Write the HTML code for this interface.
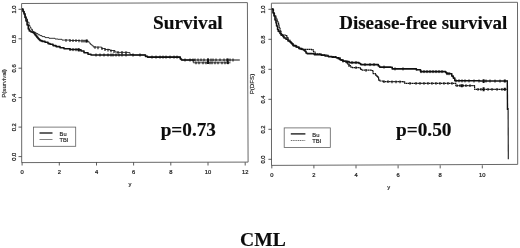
<!DOCTYPE html>
<html>
<head>
<meta charset="utf-8">
<style>
html,body{margin:0;padding:0;background:#fff;}
body{width:520px;height:248px;overflow:hidden;position:relative;font-family:"Liberation Sans",sans-serif;}
svg{position:absolute;left:0;top:0;will-change:transform;filter:blur(0.4px);}
.ax{font-family:"Liberation Sans",sans-serif;font-size:5.8px;fill:#1a1a1a;stroke:#1a1a1a;stroke-width:0.22;}
.lab{font-family:"Liberation Sans",sans-serif;font-size:5.8px;fill:#222;stroke:#222;stroke-width:0.15;}
.big{font-family:"Liberation Serif",serif;font-weight:bold;fill:#0c0c0c;stroke:#0c0c0c;stroke-width:0.15;}
</style>
</head>
<body>
<svg width="520" height="248" viewBox="0 0 520 248">
<rect x="0" y="0" width="520" height="248" fill="#fff"/>

<!-- LEFT PLOT -->
<g id="left">
<path d="M21.6,3.5 L247.4,2.6 L248.1,162.1 L21.7,162.6 Z" fill="none" stroke="#606060" stroke-width="0.95"/>
<g stroke="#333" stroke-width="0.8"><line x1="18.5" y1="9.3" x2="21.6" y2="9.3"/><line x1="18.5" y1="38.8" x2="21.6" y2="38.8"/><line x1="18.5" y1="68.2" x2="21.6" y2="68.2"/><line x1="18.5" y1="97.6" x2="21.6" y2="97.6"/><line x1="18.5" y1="127.1" x2="21.6" y2="127.1"/><line x1="18.5" y1="156.6" x2="21.6" y2="156.6"/><line x1="22.1" y1="162.4" x2="22.1" y2="165.5"/><line x1="59.3" y1="162.4" x2="59.3" y2="165.5"/><line x1="96.5" y1="162.4" x2="96.5" y2="165.5"/><line x1="133.6" y1="162.4" x2="133.6" y2="165.5"/><line x1="170.8" y1="162.4" x2="170.8" y2="165.5"/><line x1="208.0" y1="162.4" x2="208.0" y2="165.5"/><line x1="245.2" y1="162.4" x2="245.2" y2="165.5"/></g>
<g class="ax" text-anchor="middle"><text transform="translate(16.3,9.5) rotate(-90)">1.0</text><text transform="translate(16.3,39.0) rotate(-90)">0.8</text><text transform="translate(16.3,68.4) rotate(-90)">0.6</text><text transform="translate(16.3,97.8) rotate(-90)">0.4</text><text transform="translate(16.3,127.3) rotate(-90)">0.2</text><text transform="translate(16.3,156.8) rotate(-90)">0.0</text><text x="22.1" y="173.9">0</text><text x="59.3" y="173.9">2</text><text x="96.5" y="173.9">4</text><text x="133.6" y="173.9">6</text><text x="170.8" y="173.9">8</text><text x="208.0" y="173.9">10</text><text x="245.2" y="173.9">12</text></g>
<text class="lab" text-anchor="middle" transform="translate(5.6,83.4) rotate(-90)" style="font-size:6.05px">P(survival)</text>
<text class="lab" text-anchor="middle" x="130" y="186">y</text>
<path d="M22.0,9.0 L23.0,9.0 L23.0,11.0 L24.0,11.0 L24.0,13.0 L25.0,13.0 L25.0,16.0 L26.0,16.0 L26.0,19.0 L27.5,19.0 L27.5,22.2 L29.0,22.2 L29.0,25.5 L30.0,25.5 L30.0,27.4 L31.0,27.4 L31.0,29.3 L32.5,29.3 L32.5,31.4 L34.0,31.4 L34.0,32.4 L36.0,32.4 L36.0,33.6 L38.0,33.6 L38.0,34.8 L40.0,34.8 L40.0,35.6 L42.0,35.6 L42.0,36.6 L45.0,36.6 L45.0,37.6 L49.0,37.6 L49.0,38.3 L55.0,38.3 L55.0,39.0 L58.0,39.0 L58.0,39.3 L62.0,39.3 L62.0,40.1 L70.0,40.1 L70.0,40.5 L80.0,40.5 L80.0,40.9 L87.2,40.9 L87.2,41.3 L89.0,41.3 L89.0,43.0 L90.4,43.0 L90.4,44.4 L91.9,44.4 L91.9,45.7 L93.3,45.7 L93.3,47.1 L101.7,47.1 L101.7,48.5 L105.0,48.5 L105.0,49.5 L110.0,49.5 L110.0,50.5 L115.0,50.5 L115.0,52.0 L117.0,52.0 L117.0,52.4 L128.0,52.4 L128.0,52.6 L130.0,52.6 L130.0,54.5 L133.0,54.5 L133.0,55.0 L144.0,55.0 L145.5,55.0 L145.5,56.4 L147.5,56.4 L147.5,57.1 L179.2,57.1 L180.3,57.1 L180.3,59.0 L181.5,59.0 L181.5,60.0 L193.3,60.0 L193.3,62.8 L230.5,62.8" fill="none" stroke="#222" stroke-width="0.9" stroke-linejoin="round"/>
<path d="M66.0,38.9 v2.8 M70.0,39.1 v2.8 M73.0,39.2 v2.8 M76.0,39.3 v2.8 M79.0,39.5 v2.8 M82.0,39.6 v2.8 M84.0,39.7 v2.8 M86.0,39.8 v2.8 M95.0,46.0 v2.8 M98.0,46.5 v2.8 M102.0,47.2 v2.8 M105.0,48.1 v2.8 M108.0,48.7 v2.8 M111.0,49.4 v2.8 M114.0,50.3 v2.8 M118.0,51.0 v2.8 M122.0,51.1 v2.8 M126.0,51.2 v2.8 M133.0,53.6 v2.8 M140.0,53.6 v2.8 M196.0,61.4 v2.8 M199.0,61.4 v2.8 M203.0,61.4 v2.8 M206.0,61.4 v2.8 M210.0,61.4 v2.8 M212.0,61.4 v2.8 M215.0,61.4 v2.8 M218.0,61.4 v2.8 M222.0,61.4 v2.8 M225.0,61.4 v2.8 M228.0,61.4 v2.8" fill="none" stroke="#1a1a1a" stroke-width="1.15"/>
<path d="M22.0,9.0 L23.0,9.0 L23.0,11.5 L24.0,11.5 L24.0,14.0 L25.0,14.0 L25.0,17.5 L26.0,17.5 L26.0,21.0 L27.1,21.0 L27.1,25.0 L28.3,25.0 L28.3,29.0 L29.3,29.0 L29.3,31.0 L31.0,31.0 L31.0,32.0 L32.5,32.0 L32.5,32.4 L34.0,32.4 L34.0,33.6 L35.0,33.6 L35.0,34.9 L36.0,34.9 L36.0,36.1 L37.0,36.1 L37.0,37.4 L38.0,37.4 L38.0,38.6 L39.0,38.6 L39.0,39.6 L40.0,39.6 L40.0,40.6 L42.0,40.6 L42.0,41.4 L45.0,41.4 L45.0,42.3 L48.0,42.3 L48.0,43.6 L50.0,43.6 L50.0,44.3 L53.0,44.3 L53.0,45.6 L56.0,45.6 L56.0,46.6 L60.0,46.6 L60.0,47.8 L64.0,47.8 L64.0,48.7 L70.0,48.7 L70.0,49.5 L78.0,49.5 L78.0,49.7 L81.0,49.7 L81.0,51.0 L84.0,51.0 L84.0,52.7 L88.0,52.7 L88.0,54.2 L91.0,54.2 L91.0,55.0 L144.0,55.0 L145.5,55.0 L145.5,56.4 L147.5,56.4 L147.5,57.1 L179.2,57.1 L180.3,57.1 L180.3,59.0 L181.5,59.0 L181.5,60.0 L195.0,60.0" fill="none" stroke="#111" stroke-width="1.6" stroke-linejoin="round"/>
<path d="M195.0,60.0 L239.8,60.0" fill="none" stroke="#111" stroke-width="1.05"/>
<path d="M70.0,48.0 v3.0 M73.0,48.1 v3.0 M76.0,48.2 v3.0 M79.0,48.6 v3.0 M96.0,53.5 v3.0 M100.0,53.5 v3.0 M104.0,53.5 v3.0 M108.0,53.5 v3.0 M111.0,53.5 v3.0 M113.0,53.5 v3.0 M116.0,53.5 v3.0 M119.0,53.5 v3.0 M122.0,53.5 v3.0 M126.0,53.5 v3.0 M152.0,55.6 v3.0 M156.0,55.6 v3.0 M160.0,55.6 v3.0 M163.0,55.6 v3.0 M166.0,55.6 v3.0 M170.0,55.6 v3.0 M174.0,55.6 v3.0 M177.0,55.6 v3.0 M185.0,58.5 v3.0 M190.0,58.5 v3.0 M193.0,58.5 v3.0 M195.0,58.5 v3.0 M198.0,58.5 v3.0 M201.0,58.5 v3.0 M204.0,58.5 v3.0 M208.0,58.5 v3.0 M211.0,58.5 v3.0 M213.0,58.5 v3.0 M216.0,58.5 v3.0 M220.0,58.5 v3.0 M224.0,58.5 v3.0 M227.0,58.5 v3.0 M230.0,58.5 v3.0 M233.0,58.5 v3.0" fill="none" stroke="#111" stroke-width="1.0"/>
<path d="M208,58.6 V64 M227.7,58.6 V64 M86.8,39.6 V42.6 M78.6,48.2 V51.2" fill="none" stroke="#111" stroke-width="2"/>
<rect x="33.4" y="127.1" width="42.3" height="19.2" fill="#fff" stroke="#606060" stroke-width="0.8"/>
<line x1="39.5" y1="133" x2="52.5" y2="133" stroke="#111" stroke-width="1.3"/>
<line x1="39.5" y1="139.5" x2="52.5" y2="139.5" stroke="#333" stroke-width="0.6"/>
<text class="lab" x="59.6" y="135.5" style="font-size:5.7px">Bu</text>
<text class="lab" x="59.6" y="142.1" style="font-size:5.7px">TBI</text>
<text class="big" x="153" y="29" style="font-size:19.3px">Survival</text>
<text class="big" x="160.7" y="136" style="font-size:19.2px">p=0.73</text>
</g>

<!-- RIGHT PLOT -->
<g id="right">
<path d="M271.4,3.2 L517.5,2.3 L517.7,164.4 L271.5,165.4 Z" fill="none" stroke="#606060" stroke-width="0.95"/>
<g stroke="#333" stroke-width="0.8"><line x1="268.4" y1="9.3" x2="271.5" y2="9.3"/><line x1="268.4" y1="39.3" x2="271.5" y2="39.3"/><line x1="268.4" y1="69.3" x2="271.5" y2="69.3"/><line x1="268.4" y1="99.3" x2="271.5" y2="99.3"/><line x1="268.4" y1="129.3" x2="271.5" y2="129.3"/><line x1="268.4" y1="159.3" x2="271.5" y2="159.3"/><line x1="271.8" y1="165.3" x2="271.8" y2="168.4"/><line x1="313.9" y1="165.3" x2="313.9" y2="168.4"/><line x1="356.0" y1="165.3" x2="356.0" y2="168.4"/><line x1="398.1" y1="165.3" x2="398.1" y2="168.4"/><line x1="440.2" y1="165.3" x2="440.2" y2="168.4"/><line x1="482.3" y1="165.3" x2="482.3" y2="168.4"/></g>
<g class="ax" text-anchor="middle"><text transform="translate(265.1,9.5) rotate(-90)">1.0</text><text transform="translate(265.1,39.5) rotate(-90)">0.8</text><text transform="translate(265.1,69.5) rotate(-90)">0.6</text><text transform="translate(265.1,99.5) rotate(-90)">0.4</text><text transform="translate(265.1,129.5) rotate(-90)">0.2</text><text transform="translate(265.1,159.5) rotate(-90)">0.0</text><text x="271.8" y="176.8">0</text><text x="313.9" y="176.8">2</text><text x="356.0" y="176.8">4</text><text x="398.1" y="176.8">6</text><text x="440.2" y="176.8">8</text><text x="482.3" y="176.8">10</text></g>
<text class="lab" text-anchor="middle" transform="translate(254,84) rotate(-90)" style="font-size:6.2px">P(DFS)</text>
<text class="lab" text-anchor="middle" x="388.8" y="188.9">y</text>
<path d="M271.8,9.0 L273.5,9.0 L273.5,13.0 L274.5,13.0 L274.5,16.0 L276.0,16.0 L276.0,19.0 L277.2,19.0 L277.2,22.0 L278.6,22.0 L278.6,25.0 L279.2,25.0 L279.2,28.0 L280.0,28.0 L280.0,31.0 L281.0,31.0 L281.0,33.5 L282.0,33.5 L282.0,35.6 L284.0,35.0 L286.0,35.0 L286.0,35.6 L287.0,35.6 L287.0,37.5 L288.0,37.5 L288.0,40.0 L290.0,40.0 L290.0,41.5 L291.0,41.5 L291.0,42.8 L292.0,42.8 L292.0,44.0 L293.0,44.0 L293.0,45.0 L294.0,45.0 L294.0,46.0 L297.0,46.0 L297.0,47.5 L299.0,47.5 L299.0,48.4 L301.0,48.4 L301.0,49.4 L311.7,49.4 L311.7,49.8 L313.5,49.8 L313.5,52.0 L315.2,52.0 L315.2,53.8 L321.0,53.8 L321.0,55.0 L328.0,55.0 L328.0,56.5 L336.0,56.5 L336.0,57.6 L340.0,57.6 L340.0,59.5 L341.0,59.5 L341.0,60.1 L343.0,60.1 L343.0,61.5 L346.0,61.5 L346.0,62.6 L347.5,62.6 L347.5,64.0 L349.1,64.0 L349.1,65.6 L350.5,65.6 L350.5,67.0 L352.1,67.0 L352.1,67.6 L359.2,67.6 L359.2,67.8 L360.5,67.8 L360.5,69.3 L362.2,69.3 L362.2,70.2 L371.3,70.2 L371.3,70.5 L373.0,70.5 L373.0,73.6 L375.5,73.6 L375.5,75.1 L376.6,75.1 L376.6,76.1 L377.6,76.1 L377.6,77.1 L378.6,77.1 L378.6,80.1 L380.0,80.1 L380.0,81.0 L383.1,81.0 L383.1,81.7 L402.8,81.7 L402.8,81.9 L404.8,81.9 L404.8,83.4 L454.3,83.4 L455.8,83.4 L455.8,85.7 L474.0,85.7 L474.6,85.7 L474.6,89.3 L507.0,89.3" fill="none" stroke="#111" stroke-width="1.2" stroke-dasharray="1.7,0.35" stroke-linejoin="round"/>
<path d="M349.0,64.1 v2.8 M356.0,66.3 v2.8 M366.0,68.9 v2.8 M384.0,80.3 v2.8 M388.0,80.3 v2.8 M392.0,80.4 v2.8 M396.0,80.4 v2.8 M400.0,80.5 v2.8 M410.0,82.0 v2.8 M416.0,82.0 v2.8 M420.0,82.0 v2.8 M424.0,82.0 v2.8 M428.0,82.0 v2.8 M432.0,82.0 v2.8 M436.0,82.0 v2.8 M440.0,82.0 v2.8 M444.0,82.0 v2.8 M448.0,82.0 v2.8 M452.0,82.0 v2.8 M457.0,84.3 v2.8 M460.0,84.3 v2.8 M463.0,84.3 v2.8 M466.0,84.3 v2.8 M470.0,84.3 v2.8 M478.0,87.9 v2.8 M481.0,87.9 v2.8 M488.0,87.9 v2.8 M492.0,87.9 v2.8 M497.0,87.9 v2.8 M502.0,87.9 v2.8" fill="none" stroke="#1a1a1a" stroke-width="1.1"/>
<path d="M271.8,9.0 L273.0,9.0 L273.0,13.0 L274.0,13.0 L274.0,16.0 L275.0,16.0 L275.0,20.0 L276.0,20.0 L276.0,23.0 L276.6,23.0 L276.6,26.0 L277.6,26.0 L277.6,29.5 L278.3,29.5 L278.3,31.5 L280.0,31.5 L280.0,33.5 L281.0,33.5 L281.0,35.1 L283.0,35.1 L283.0,36.6 L284.0,36.6 L284.0,38.0 L286.0,38.0 L286.0,39.2 L288.0,39.2 L288.0,41.0 L289.5,41.0 L289.5,41.7 L290.6,41.7 L290.6,42.7 L291.7,42.7 L291.7,43.7 L293.0,43.7 L293.0,45.6 L296.0,45.6 L296.0,47.0 L299.0,47.0 L299.0,48.6 L302.0,48.6 L302.0,49.5 L304.0,49.5 L304.0,50.5 L305.0,50.5 L305.0,51.3 L306.0,51.3 L306.0,53.0 L307.0,53.0 L307.0,53.6 L312.2,53.6 L312.2,53.8 L314.2,53.8 L314.2,54.6 L321.3,54.6 L321.3,55.1 L325.0,55.1 L325.0,56.0 L328.3,56.0 L328.3,56.6 L332.0,56.6 L332.0,57.2 L336.4,57.2 L336.4,57.7 L338.0,57.7 L338.0,58.6 L340.0,58.6 L340.0,59.7 L341.0,59.7 L341.0,60.1 L343.0,60.1 L343.0,61.0 L346.0,61.0 L346.0,61.6 L349.1,61.6 L349.1,62.6 L357.7,62.6 L359.0,62.6 L359.0,63.5 L360.7,63.5 L360.7,64.6 L377.0,64.6 L378.3,64.6 L378.3,66.0 L379.6,66.0 L379.6,67.1 L390.7,67.1 L390.7,67.2 L392.2,67.2 L392.2,68.9 L414.4,68.9 L416.4,68.9 L416.4,69.9 L418.0,69.7 L420.5,69.7 L420.5,71.6 L444.7,71.6 L445.7,71.6 L445.7,72.6 L446.7,72.6 L446.7,73.6 L450.3,73.6 L450.3,73.8 L451.8,73.8 L451.8,76.1 L453.3,76.1 L453.3,78.1 L454.8,78.1 L454.8,80.8 L480.0,80.8 L480.0,81.0 L507.3,81.0 L507.3,81.1" fill="none" stroke="#111" stroke-width="1.6" stroke-linejoin="round"/>
<path d="M507.3,80.4 L507.5,110" fill="none" stroke="#111" stroke-width="1.4"/>
<path d="M508.1,108 L508.3,159.2" fill="none" stroke="#151515" stroke-width="1.1"/>
<path d="M343.0,59.5 v3.0 M347.0,60.4 v3.0 M352.0,61.1 v3.0 M356.0,61.1 v3.0 M365.0,63.1 v3.0 M370.0,63.1 v3.0 M374.0,63.1 v3.0 M384.0,65.6 v3.0 M395.0,67.4 v3.0 M403.0,67.4 v3.0 M421.0,70.1 v3.0 M424.0,70.1 v3.0 M427.0,70.1 v3.0 M430.0,70.1 v3.0 M433.0,70.1 v3.0 M436.0,70.1 v3.0 M439.0,70.1 v3.0 M442.0,70.1 v3.0 M447.0,72.1 v3.0 M449.0,72.2 v3.0 M456.0,79.3 v3.0 M459.0,79.3 v3.0 M462.0,79.4 v3.0 M465.0,79.4 v3.0 M469.0,79.4 v3.0 M474.0,79.5 v3.0 M479.0,79.5 v3.0 M486.0,79.5 v3.0 M490.0,79.5 v3.0 M495.0,79.6 v3.0 M500.0,79.6 v3.0" fill="none" stroke="#111" stroke-width="1.0"/>
<path d="M483.6,79.3 V82.9 M483.6,87.3 V91.3 M504.8,79.6 V82.6 M504.8,87.8 V90.8 M461.8,84.2 V87.2" fill="none" stroke="#111" stroke-width="2"/>
<rect x="284.2" y="127.9" width="46.1" height="19.5" fill="#fff" stroke="#606060" stroke-width="0.8"/>
<line x1="290.8" y1="133.9" x2="305.4" y2="133.9" stroke="#111" stroke-width="1.3"/>
<line x1="290.8" y1="140.5" x2="305.4" y2="140.5" stroke="#333" stroke-width="0.7" stroke-dasharray="1.2,0.6"/>
<text class="lab" x="312.3" y="136.6" style="font-size:5.8px">Bu</text>
<text class="lab" x="312.3" y="143.3" style="font-size:5.8px">TBI</text>
<text class="big" x="339.2" y="29" style="font-size:19px">Disease-free survival</text>
<text class="big" x="396" y="136" style="font-size:19.3px">p=0.50</text>
</g>

<text class="big" x="240" y="246" style="font-size:19.6px">CML</text>
</svg>
</body>
</html>
